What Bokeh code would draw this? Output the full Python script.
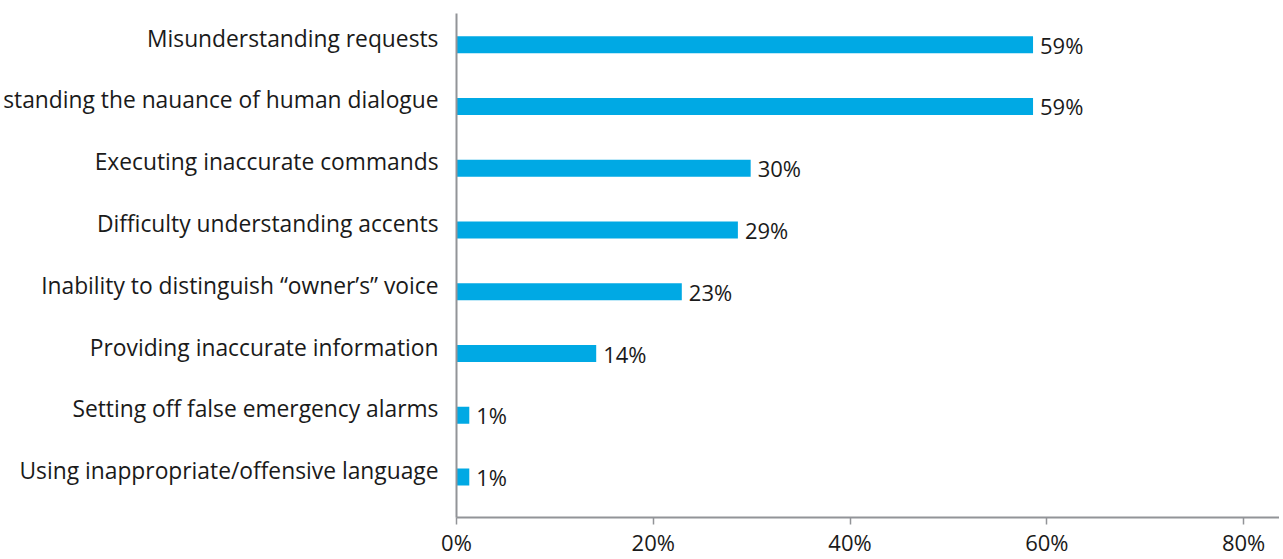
from bokeh.plotting import figure
from bokeh.models import Range1d, ColumnDataSource, FixedTicker
from bokeh.core.properties import value
from bokeh.embed import file_html
from bokeh.resources import INLINE

categories = [
    "Misunderstanding requests",
    "standing the nauance of human dialogue",
    "Executing inaccurate commands",
    "Difficulty understanding accents",
    "Inability to distinguish \u201cowner\u2019s\u201d voice",
    "Providing inaccurate information",
    "Setting off false emergency alarms",
    "Using inappropriate/offensive language",
]
values = [58.6, 58.6, 29.9, 28.6, 22.9, 14.2, 1.3, 1.3]
value_labels = ["59%", "59%", "30%", "29%", "23%", "14%", "1%", "1%"]
x_ticks = [0, 20, 40, 60, 80]

FONT = "Open Sans"
TEXT = "#1a1a1a"
AXIS = "#929498"
BAR = "#00a9e4"

idx = list(range(len(categories)))
src = ColumnDataSource(dict(y=idx, v=values, lab=value_labels))

p = figure(width=1279, height=559, output_backend="svg", toolbar_location=None,
           x_range=Range1d(0, 83.65), y_range=Range1d(7.654, -0.504),
           min_border_left=455, min_border_right=0, min_border_top=13, min_border_bottom=38)
p.outline_line_color = None
p.grid.visible = False
p.background_fill_color = "white"

p.hbar(y="y", left=0, right="v", height=0.275, source=src, fill_color=BAR, line_color=None)

p.text(x="v", y="y", text="lab", source=src, x_offset=7, text_baseline="middle", text_align="left",
       text_font=value(FONT), text_font_size="22px", text_color=TEXT)

xa = p.xaxis[0]
xa.ticker = FixedTicker(ticks=x_ticks)
xa.major_label_overrides = {t: f"{t}%" for t in x_ticks}
xa.axis_line_color = AXIS
xa.axis_line_width = 2
xa.major_tick_line_color = AXIS
xa.major_tick_line_width = 1.5
xa.major_tick_in = 0
xa.major_tick_out = 7
xa.minor_tick_line_color = None
xa.major_label_text_font = FONT
xa.major_label_text_font_size = "22px"
xa.major_label_text_color = TEXT
xa.major_label_text_line_height = 0.9
xa.major_label_standoff = 2

label_pos = [i - 0.105 for i in idx]
ya = p.yaxis[0]
ya.ticker = FixedTicker(ticks=label_pos)
ya.major_label_overrides = {pos: c for pos, c in zip(label_pos, categories)}
ya.axis_line_color = AXIS
ya.axis_line_width = 2
ya.major_tick_line_color = None
ya.major_tick_in = 0
ya.major_tick_out = 0
ya.minor_tick_line_color = None
ya.major_label_text_font = FONT
ya.major_label_text_font_size = "22.8px"
ya.major_label_text_color = TEXT
ya.major_label_standoff = 18

open("out.html", "w").write(file_html(p, INLINE))
